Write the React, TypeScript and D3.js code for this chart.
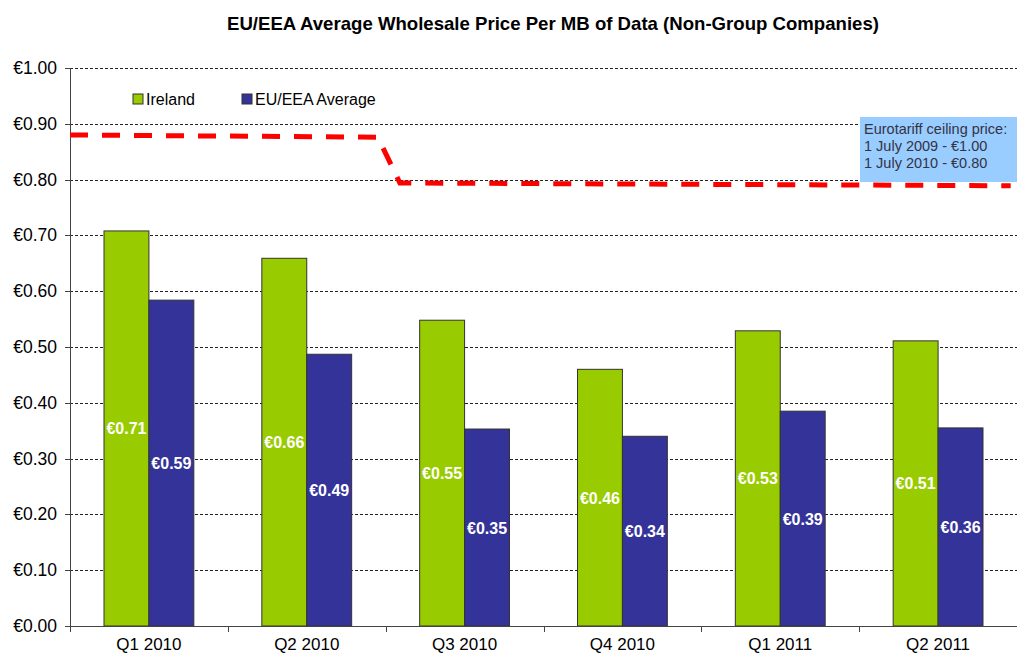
import React, { useEffect, useRef } from 'react';
import * as d3 from 'd3';

// Chart data
const quarters = ['Q1 2010', 'Q2 2010', 'Q3 2010', 'Q4 2010', 'Q1 2011', 'Q2 2011'];
const irelandValues = [0.708, 0.659, 0.548, 0.46, 0.529, 0.511];
const euValues = [0.584, 0.487, 0.353, 0.34, 0.385, 0.355];
const irelandLabels = ['€0.71', '€0.66', '€0.55', '€0.46', '€0.53', '€0.51'];
const euLabels = ['€0.59', '€0.49', '€0.35', '€0.34', '€0.39', '€0.36'];
const yTicks = [0, 0.1, 0.2, 0.3, 0.4, 0.5, 0.6, 0.7, 0.8, 0.9, 1.0];
// ceiling line: position in quarter units (0..6) and price
const ceilingPos = [0, 1.95, 2.09, 5.96];
const ceilingPrice = [0.88, 0.876, 0.794, 0.789];
const noteLines = ['Eurotariff ceiling price:', '1 July 2009 - €1.00', '1 July 2010 - €0.80'];

const App = () => {
  const svgRef = useRef<SVGSVGElement>(null);

  useEffect(() => {
    document.body.style.margin = '0';
    const width = 1017;
    const height = 654;
    const margin = { top: 68, right: 0, bottom: 28, left: 70 };
    const innerW = width - margin.left - margin.right;
    const innerH = height - margin.top - margin.bottom;
    const font = 'Arial, "Liberation Sans", sans-serif';

    d3.select(svgRef.current).selectAll('*').remove();

    const root = d3.select(svgRef.current)
      .attr('width', width)
      .attr('height', height)
      .style('font-family', font)
      .style('display', 'block');

    root.append('rect').attr('width', width).attr('height', height).attr('fill', '#fff');

    // Title
    root.append('text')
      .attr('x', 553)
      .attr('y', 30)
      .attr('text-anchor', 'middle')
      .style('font-size', '18.6px')
      .style('font-weight', 'bold')
      .text('EU/EEA Average Wholesale Price Per MB of Data (Non-Group Companies)');

    const svg = root.append('g')
      .attr('transform', `translate(${margin.left},${margin.top})`);

    const x = d3.scaleBand().domain(quarters).range([0, innerW]).paddingInner(0).paddingOuter(0);
    const sub = d3.scaleBand().domain(['ie', 'eu']).range([34, x.bandwidth() - 34]);
    const y = d3.scaleLinear().domain([0, 1]).range([innerH, 0]);
    const xq = d3.scaleLinear().domain([0, 6]).range([0, innerW]);

    // Gridlines
    svg.selectAll('.grid')
      .data(yTicks.filter(d => d > 0))
      .enter().append('line')
      .attr('x1', 0)
      .attr('x2', innerW)
      .attr('y1', d => Math.round(y(d)) + 0.5)
      .attr('y2', d => Math.round(y(d)) + 0.5)
      .attr('stroke', '#222')
      .attr('stroke-width', 1)
      .attr('stroke-dasharray', '3,2');

    // Y tick labels
    svg.selectAll('.ylab')
      .data(yTicks)
      .enter().append('text')
      .attr('x', -13)
      .attr('y', d => y(d) + 6)
      .attr('text-anchor', 'end')
      .style('font-size', '17.5px')
      .text(d => '€' + d.toFixed(2));

    svg.selectAll('.ytick')
      .data(yTicks)
      .enter().append('line')
      .attr('x1', -5)
      .attr('x2', 0)
      .attr('y1', d => Math.round(y(d)) + 0.5)
      .attr('y2', d => Math.round(y(d)) + 0.5)
      .attr('stroke', '#444');

    // Bars
    const groups = svg.selectAll('.grp')
      .data(quarters)
      .enter().append('g')
      .attr('transform', d => `translate(${x(d)},0)`);

    groups.append('rect')
      .attr('x', sub('ie')!)
      .attr('width', sub.bandwidth())
      .attr('y', (d, i) => y(irelandValues[i]))
      .attr('height', (d, i) => innerH - y(irelandValues[i]))
      .attr('fill', '#99cc00')
      .attr('stroke', '#333')
      .attr('stroke-width', 1);

    groups.append('rect')
      .attr('x', sub('eu')!)
      .attr('width', sub.bandwidth())
      .attr('y', (d, i) => y(euValues[i]))
      .attr('height', (d, i) => innerH - y(euValues[i]))
      .attr('fill', '#333399')
      .attr('stroke', '#333')
      .attr('stroke-width', 1);

    // Bar labels
    groups.append('text')
      .attr('x', sub('ie')! + sub.bandwidth() / 2)
      .attr('y', (d, i) => (y(irelandValues[i]) + innerH) / 2 + 6)
      .attr('text-anchor', 'middle')
      .attr('fill', '#fff')
      .style('font-size', '16px')
      .style('font-weight', 'bold')
      .text((d, i) => irelandLabels[i]);

    groups.append('text')
      .attr('x', sub('eu')! + sub.bandwidth() / 2)
      .attr('y', (d, i) => (y(euValues[i]) + innerH) / 2 + 6)
      .attr('text-anchor', 'middle')
      .attr('fill', '#fff')
      .style('font-size', '16px')
      .style('font-weight', 'bold')
      .text((d, i) => euLabels[i]);

    // Axes lines
    svg.append('line')
      .attr('x1', 0.5).attr('x2', 0.5).attr('y1', 0).attr('y2', innerH)
      .attr('stroke', '#444');
    svg.append('line')
      .attr('x1', 0).attr('x2', innerW).attr('y1', innerH + 0.5).attr('y2', innerH + 0.5)
      .attr('stroke', '#444');

    // X ticks and labels
    svg.selectAll('.xtick')
      .data(d3.range(quarters.length + 1))
      .enter().append('line')
      .attr('x1', d => Math.round(xq(d)) + 0.5)
      .attr('x2', d => Math.round(xq(d)) + 0.5)
      .attr('y1', innerH)
      .attr('y2', innerH + 6)
      .attr('stroke', '#444');

    svg.selectAll('.xlab')
      .data(quarters)
      .enter().append('text')
      .attr('x', d => x(d)! + x.bandwidth() / 2)
      .attr('y', innerH + 24)
      .attr('text-anchor', 'middle')
      .style('font-size', '17px')
      .text(d => d);

    // Ceiling line
    const line = d3.line<number>()
      .x((d, i) => xq(ceilingPos[i]))
      .y(d => y(d));
    svg.append('path')
      .datum(ceilingPrice)
      .attr('d', line)
      .attr('fill', 'none')
      .attr('stroke', '#ff0000')
      .attr('stroke-width', 5)
      .attr('stroke-dasharray', '18,14');

    // Annotation box
    const note = root.append('g').attr('transform', 'translate(860,117)');
    note.append('rect')
      .attr('width', 157)
      .attr('height', 65)
      .attr('fill', '#99ccff');
    note.selectAll('text')
      .data(noteLines)
      .enter().append('text')
      .attr('x', 4)
      .attr('y', (d, i) => 17 + i * 17)
      .attr('fill', '#333344')
      .style('font-size', '14.5px')
      .text(d => d);

    // Legend
    const legend = root.append('g').attr('transform', 'translate(133,94)');
    const items = [
      { name: 'Ireland', color: '#99cc00', dx: 0 },
      { name: 'EU/EEA Average', color: '#333399', dx: 109 },
    ];
    const li = legend.selectAll('.li')
      .data(items)
      .enter().append('g')
      .attr('transform', d => `translate(${d.dx},0)`);
    li.append('rect')
      .attr('width', 10)
      .attr('height', 10)
      .attr('fill', d => d.color)
      .attr('stroke', '#333');
    li.append('text')
      .attr('x', 13)
      .attr('y', 11)
      .style('font-size', '16px')
      .text(d => d.name);
  }, []);

  return <svg ref={svgRef}></svg>;
};

export default App;
